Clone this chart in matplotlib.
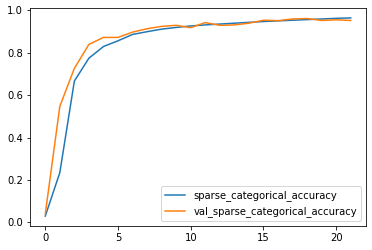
import matplotlib
matplotlib.use('Agg')
import matplotlib.pyplot as plt

epochs = list(range(22))
acc = [0.03, 0.235, 0.667, 0.775, 0.83, 0.857, 0.887, 0.90, 0.912, 0.92, 0.927,
       0.932, 0.936, 0.94, 0.944, 0.948, 0.951, 0.954, 0.957, 0.96, 0.963, 0.965]
val_acc = [0.04, 0.548, 0.727, 0.84, 0.873, 0.873, 0.898, 0.914, 0.925, 0.93, 0.919,
           0.943, 0.93, 0.932, 0.94, 0.954, 0.952, 0.96, 0.962, 0.953, 0.956, 0.953]

fig = plt.figure(figsize=(372 / 72, 250 / 72), dpi=72)
ax = fig.add_axes([30 / 372, 24 / 250, 336 / 372, 218 / 250])
ax.plot(epochs, acc, label='sparse_categorical_accuracy')
ax.plot(epochs, val_acc, label='val_sparse_categorical_accuracy')
ax.legend(loc='lower right')
fig.savefig('out.png', dpi=72)
